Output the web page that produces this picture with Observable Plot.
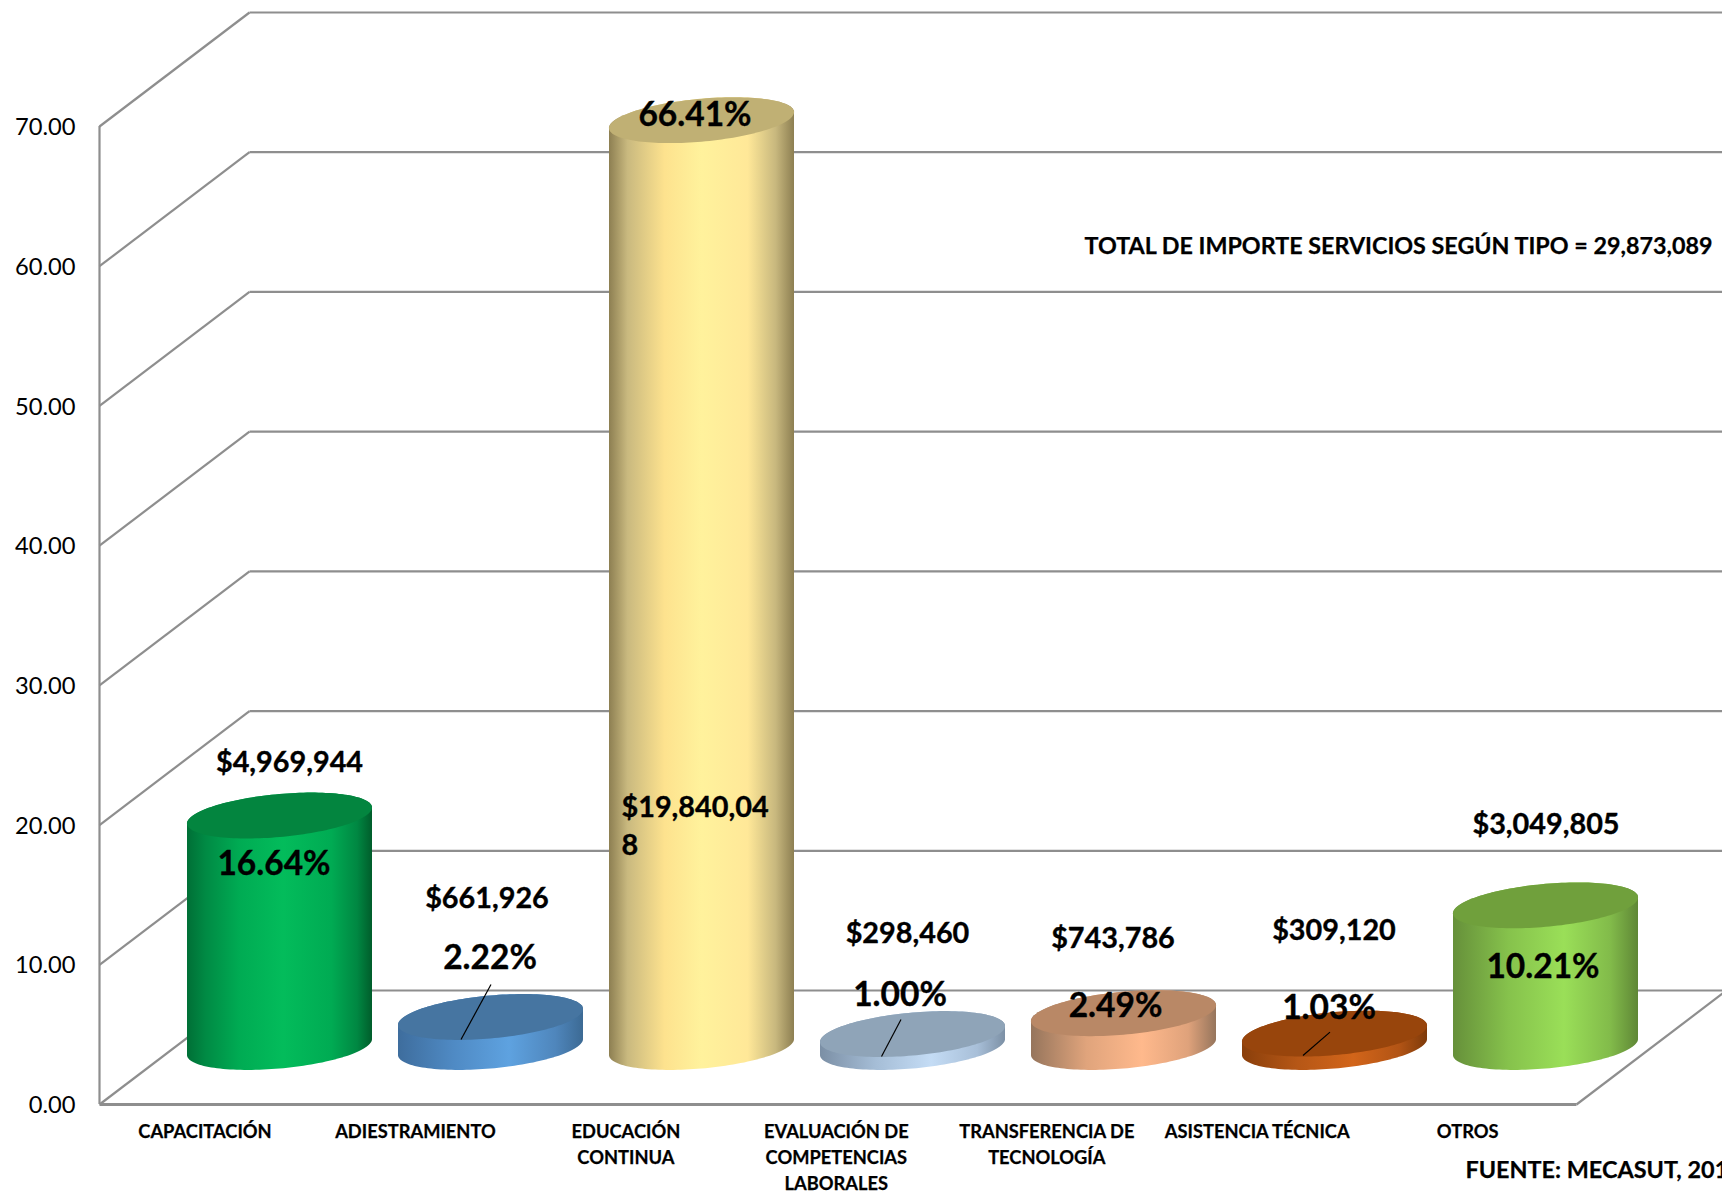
<!DOCTYPE html>
<html>
<head>
<meta charset="utf-8">
<script src="https://cdn.jsdelivr.net/npm/d3@7"></script>
<script src="https://cdn.jsdelivr.net/npm/@observablehq/plot@0.6"></script>
<style>
html,body{margin:0;padding:0;background:#fff;overflow:hidden}
svg{display:block}
</style>
</head>
<body>
<div id="chart"></div>
<script>
const categories = ["CAPACITACIÓN","ADIESTRAMIENTO","EDUCACIÓN\nCONTINUA","EVALUACIÓN DE\nCOMPETENCIAS\nLABORALES","TRANSFERENCIA DE\nTECNOLOGÍA","ASISTENCIA TÉCNICA","OTROS"];
const percentages = [16.64,2.22,66.41,1.00,2.49,1.03,10.21];
const amountLabels = ["$4,969,944","$661,926","$19,840,04\n8","$298,460","$743,786","$309,120","$3,049,805"];
const yTicks = [0,10,20,30,40,50,60,70];
const totalNote = "TOTAL DE IMPORTE SERVICIOS SEGÚN TIPO = 29,873,089";
const sourceNote = "FUENTE: MECASUT, 201";

// Presentation
const sideStops = [
  [[0,"#006f36"],[.1,"#008a44"],[.28,"#00ab53"],[.52,"#03bc5b"],[.78,"#00ab53"],[.92,"#008742"],[1,"#005d2b"]],
  [[0,"#3e6d9d"],[.3,"#4f8ac4"],[.6,"#5ea2e0"],[.85,"#4f86bc"],[1,"#3c6a94"]],
  [[0,"#8d7f52"],[.1,"#c9b97f"],[.3,"#fde28e"],[.5,"#fff29c"],[.75,"#ffe898"],[.9,"#c8b87e"],[1,"#8d7f52"]],
  [[0,"#7b8fa5"],[.3,"#a5bdd6"],[.6,"#c4dcf5"],[.85,"#a8bfd8"],[1,"#7c90a5"]],
  [[0,"#96755c"],[.3,"#e0a47c"],[.6,"#ffb98c"],[.85,"#dfa27b"],[1,"#96755c"]],
  [[0,"#8a3f0b"],[.3,"#b65716"],[.6,"#d2651a"],[.85,"#b25415"],[1,"#7e3a0a"]],
  [[0,"#66903a"],[.3,"#86c24c"],[.6,"#9adf58"],[.85,"#82bb4a"],[1,"#5f8736"]]
];
const lidColors = ["#03853f","#4675a1","#c0b074","#8fa4b8","#b98866","#98450c","#70a03c"];

const W = 1722, H = 1194, mL = 99, mR = 146, mT = 126, mB = 90;
const pxX = (W - mL - mR) / 7;      // px per category
const pxY = (H - mT - mB) / 70;     // px per value unit
const depthX = 150 / pxX, depthY = 114 / pxY;
const A = 92.5 / pxX, K = 8 / pxY, B = 21.5 / pxY;
const cx = i => i + .5 + depthX / 2;

// label placement relative to a cylinder's top centre (px)
const amountOff = [[9.5,-53.5],[-4,-119],[-79.5,669],[-5.5,-101],[-11,-75],[-1,-103.6],[0,-81.4]];
const percentOff = [[-5,47.5],[0,-60],[-6,-6],[-12,-40],[-7.5,-8],[-5,-26.6],[-2,60.6]];
// leader lines, px from the top centre
const leaders = [
  {i:1,from:[0,-33],to:[-30,22]},
  {i:3,from:[-12,-15],to:[-31.5,22]},
  {i:5,from:[-5,-2],to:[-32,21.4]}
];

const idx = d3.range(categories.length);
const topY = i => percentages[i] + depthY / 2 - 1 / pxY;
const ts = d3.range(0, 73).map(j => j / 72 * Math.PI);

// t = 0 is the left end of the disc, which sits lower on screen than the right end
function body(i) {
  return ts.map(t => {
    const c = Math.cos(t), s = Math.sin(t);
    return { x: cx(i) - A * c, y1: depthY / 2 - K * c - B * s, y2: topY(i) - K * c + B * s };
  });
}
function lid(i) {
  return ts.map(t => {
    const c = Math.cos(t), s = Math.sin(t);
    return { x: cx(i) - A * c, y1: topY(i) - K * c - B * s, y2: topY(i) - K * c + B * s };
  });
}

const defs = () => {
  const d = d3.create("svg:defs");
  sideStops.forEach((stops, i) => {
    const g = d.append("linearGradient").attr("id", "side" + i).attr("x1", 0).attr("x2", 1).attr("y1", 0).attr("y2", 0);
    stops.forEach(([o, c]) => g.append("stop").attr("offset", o).attr("stop-color", c));
  });
  return d.node();
};

const gridColor = "#8e8e8e";
const gridW = 2.2;
const font = "Lato, sans-serif";
const heavy = {fontFamily: font, fontWeight: 700, fill: "#000", stroke: "#000", strokeWidth: .35};

const marks = [
  defs,
  Plot.ruleX([0], {y1: 0, y2: 70, stroke: gridColor, strokeWidth: gridW}),
  Plot.link(yTicks, {x1: 0, y1: d => d, x2: depthX, y2: d => d + depthY, stroke: gridColor, strokeWidth: gridW}),
  Plot.link(yTicks, {x1: depthX, y1: d => d + depthY, x2: 7 + depthX, y2: d => d + depthY, stroke: gridColor, strokeWidth: gridW}),
  Plot.link([0], {x1: 0, y1: 0, x2: 7, y2: 0, stroke: gridColor, strokeWidth: gridW + .6}),
  Plot.link([0], {x1: 7, y1: 0, x2: 7 + depthX, y2: depthY, stroke: gridColor, strokeWidth: gridW}),
  ...idx.flatMap(i => [
    Plot.areaY(body(i), {x: "x", y1: "y1", y2: "y2", fill: `url(#side${i})`}),
    Plot.areaY(lid(i), {x: "x", y1: "y1", y2: "y2", fill: lidColors[i]})
  ]),
  Plot.link(leaders, {
    x1: d => cx(d.i) + d.from[0] / pxX, y1: d => topY(d.i) - d.from[1] / pxY,
    x2: d => cx(d.i) + d.to[0] / pxX, y2: d => topY(d.i) - d.to[1] / pxY,
    stroke: "#000", strokeWidth: 1.2
  }),
  Plot.axisY({ticks: yTicks, tickFormat: d => d.toFixed(2), tickSize: 0, tickPadding: 24, label: null, fontFamily: font, fontSize: 23.7, fill: "#000", dy: 1}),
  // category labels drift slightly left of the band centres in the original
  Plot.text(idx, {
    x: i => i + .5 - i * .55 / pxX, y: 0, dy: 15, lineAnchor: "top",
    text: i => categories[i], lineHeight: 1.42, fontSize: 18.3, ...heavy, strokeWidth: .25
  }),
  Plot.text(idx.filter(i => i !== 2), {
    x: i => cx(i) + amountOff[i][0] / pxX, y: i => topY(i) - amountOff[i][1] / pxY,
    text: i => amountLabels[i], fontSize: 28.8, ...heavy
  }),
  Plot.text([2], {
    x: i => cx(i) + amountOff[i][0] / pxX, y: i => topY(i) - amountOff[i][1] / pxY,
    text: i => amountLabels[i], textAnchor: "start", lineAnchor: "top", lineHeight: 1.33,
    fontSize: 28.8, dx: -1, ...heavy
  }),
  Plot.text(idx, {
    x: i => cx(i) + percentOff[i][0] / pxX, y: i => topY(i) - percentOff[i][1] / pxY,
    text: i => percentages[i].toFixed(2) + "%", fontSize: 33.5, dy: 1, dx: -1, ...heavy
  }),
  Plot.text([totalNote], {x: (1084 - mL) / pxX, y: (H - mB - 246) / pxY, text: d => d, textAnchor: "start", fontSize: 23.3, ...heavy, strokeWidth: .25}),
  Plot.text([sourceNote], {x: (1465 - mL) / pxX, y: (H - mB - 1170) / pxY, text: d => d, textAnchor: "start", fontSize: 23.4, ...heavy, strokeWidth: .25})
];

const chart = Plot.plot({
  width: W, height: H,
  marginLeft: mL, marginRight: mR, marginTop: mT, marginBottom: mB,
  x: {type: "linear", domain: [0, 7], axis: null},
  y: {type: "linear", domain: [0, 70]},
  marks
});
document.getElementById("chart").appendChild(chart);
</script>
</body>
</html>
